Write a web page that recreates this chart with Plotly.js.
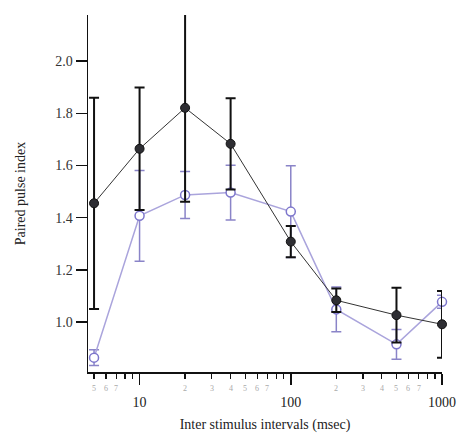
<!DOCTYPE html>
<html><head><meta charset="utf-8">
<script src="https://cdn.plot.ly/plotly-3.0.1.min.js"></script>
<style>html,body{margin:0;padding:0;background:#fff}#chart{width:461px;height:434px}</style>
</head><body><div id="chart"></div>
<script>
const intervals = [5, 10, 20, 40, 100, 200, 500, 1000];
const controlPPI = [1.455, 1.664, 1.821, 1.683, 1.308, 1.083, 1.026, 0.991];
const controlErr = [0.405, 0.235, 0.36, 0.175, 0.06, 0.045, 0.105, 0.128];
const treatedPPI = [0.863, 1.407, 1.487, 1.496, 1.423, 1.048, 0.914, 1.077];
const treatedErr = [0.03, 0.174, 0.09, 0.105, 0.176, 0.086, 0.057, 0.025];
const majorTicks = [10, 100, 1000];
const majorLabels = ['10', '100', '1000'];
const minorTicks = [5,6,7,8,9,20,30,40,50,60,70,80,90,200,300,400,500,600,700,800,900];
const minorLabelVals = [5,6,7,20,30,40,50,60,70,200,300,400,500,600,700];
const minorLabelText = ['5','6','7','2','3','4','5','6','7','2','3','4','5','6','7'];
const yTicks = [1.0, 1.2, 1.4, 1.6, 1.8, 2.0];

const serif = 'Liberation Serif, Times New Roman, serif';
const lav = '#7d76cc';
const traces = [
  {x: intervals, y: treatedPPI, type: 'scatter', mode: 'lines+markers', cliponaxis: false,
   line: {color: '#aaa4dc', width: 1.5},
   marker: {symbol: 'circle', size: 9, color: '#ffffff', line: {color: lav, width: 1.5}},
   error_y: {type: 'data', array: treatedErr, visible: true, color: '#8a84c8', thickness: 1.5, width: 5},
   showlegend: false},
  {x: intervals, y: controlPPI, type: 'scatter', mode: 'lines+markers', cliponaxis: false,
   line: {color: '#333333', width: 1},
   marker: {symbol: 'circle', size: 9, color: '#2e2e33', line: {color: '#111', width: 1}},
   error_y: {type: 'data', array: controlErr, visible: true, color: '#111111', thickness: 2, width: 5},
   showlegend: false}
];
const annotations = minorLabelVals.map((v, i) => ({
  x: Math.log10(v), xref: 'x', y: 0, yref: 'paper', yanchor: 'top', yshift: -10,
  text: minorLabelText[i], showarrow: false,
  font: {family: serif, size: 8, color: '#aaaaaa'}
}));
const layout = {
  width: 461, height: 434,
  margin: {l: 88, r: 19, t: 15, b: 62},
  paper_bgcolor: '#fff', plot_bgcolor: '#fff',
  font: {family: serif, color: '#222'},
  xaxis: {type: 'log', range: [Math.log10(4.56), 3.0],
    tickvals: majorTicks, ticktext: majorLabels,
    ticks: 'outside', ticklen: 11, tickwidth: 1.5, tickcolor: '#111',
    ticklabelstandoff: 6,
    minor: {tickvals: minorTicks, ticks: 'outside', ticklen: 5, tickwidth: 1.2, tickcolor: '#111'},
    showline: true, linecolor: '#111', linewidth: 1.5,
    showgrid: false, zeroline: false,
    tickfont: {family: serif, size: 14, color: '#222'},
    title: {text: 'Inter stimulus intervals (msec)', font: {family: serif, size: 14, color: '#222'}, standoff: 10}},
  yaxis: {range: [0.808, 2.177],
    tickvals: yTicks, ticktext: yTicks.map(v => v.toFixed(1)),
    ticks: 'outside', ticklen: 11, tickwidth: 1.5, tickcolor: '#111',
    showline: true, linecolor: '#111', linewidth: 1.5,
    showgrid: false, zeroline: false,
    tickfont: {family: serif, size: 14, color: '#333'},
    title: {text: 'Paired pulse index', font: {family: serif, size: 14, color: '#222'}, standoff: 26}},
  annotations: annotations
};
Plotly.newPlot('chart', traces, layout, {displayModeBar: false, staticPlot: true});
</script></body></html>
